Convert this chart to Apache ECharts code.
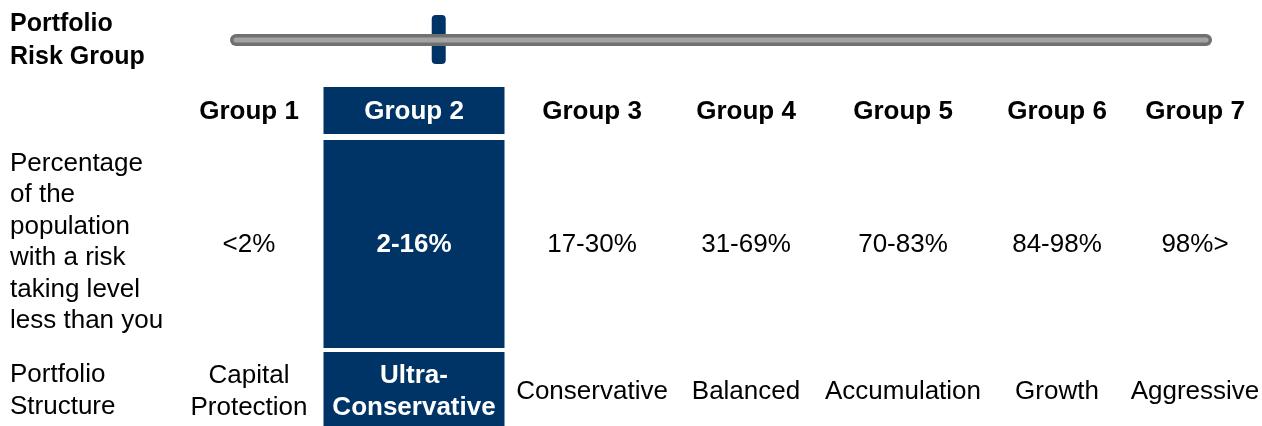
<!DOCTYPE html>
<html>
<head>
<meta charset="utf-8">
<script src="https://cdn.jsdelivr.net/npm/echarts@6/dist/echarts.min.js"></script>
<style>
  html, body { margin: 0; padding: 0; background: #fff; }
  #chart { width: 1262px; height: 426px; }
</style>
</head>
<body>
<div id="chart"></div>
<script>
const groups = ['Group 1', 'Group 2', 'Group 3', 'Group 4', 'Group 5', 'Group 6', 'Group 7'];
const percentiles = ['<2%', '2-16%', '17-30%', '31-69%', '70-83%', '84-98%', '98%>'];
const structures = ['Capital\nProtection', 'Ultra-\nConservative', 'Conservative', 'Balanced', 'Accumulation', 'Growth', 'Aggressive'];
const selectedGroup = 1;
const riskPosition = 20.9; // knob position along the slider, 0-100

// layout (pixels)
const colCenters = [249, 414, 592, 746, 903, 1057, 1195];
const boxWidth = 181;
const rows = [
  { top: 87, bottom: 134 },
  { top: 140, bottom: 348 },
  { top: 352, bottom: 426 }
];

const NAVY = '#003466';
const FONT = '"Liberation Sans", Arial, sans-serif';

function cellText(text, x, y, bold, color) {
  return {
    type: 'text',
    style: {
      text: text,
      x: x,
      y: y,
      align: 'center',
      verticalAlign: 'middle',
      fill: color,
      fontFamily: FONT,
      fontSize: 26,
      fontWeight: bold ? 'bold' : 'normal',
      lineHeight: 32
    }
  };
}

function renderCell(params, api) {
  const i = api.value(0);
  const sel = i === selectedGroup;
  const cx = api.coord([colCenters[i], 0])[0];
  const children = [];
  rows.forEach(function (r) {
    if (sel) {
      const p0 = api.coord([colCenters[i] - boxWidth / 2, r.top]);
      const p1 = api.coord([colCenters[i] + boxWidth / 2, r.bottom]);
      children.push({
        type: 'rect',
        shape: { x: p0[0], y: p0[1], width: p1[0] - p0[0], height: p1[1] - p0[1] },
        style: { fill: NAVY }
      });
    }
  });
  const yc = rows.map(function (r) { return api.coord([0, (r.top + r.bottom) / 2])[1]; });
  const color = sel ? '#fff' : '#000';
  children.push(cellText(groups[i], cx, yc[0] + 1, true, color));
  children.push(cellText(percentiles[i], cx, yc[1] + 1, sel, color));
  children.push(cellText(structures[i], cx, yc[2] + 3, sel, color));
  return { type: 'group', children: children };
}

function renderKnob(params, api) {
  const p = api.coord([api.value(0), api.value(1)]);
  return {
    type: 'rect',
    shape: { x: p[0] - 7, y: p[1] - 25, width: 14, height: 49, r: 4 },
    style: { fill: NAVY }
  };
}

const chart = echarts.init(document.getElementById('chart'));
chart.setOption({
  animation: false,
  grid: [
    { left: 0, right: 0, top: 0, bottom: 0 },
    { left: 236, right: 56, top: 15, height: 50 }
  ],
  xAxis: [
    { type: 'value', min: 0, max: 1262, show: false, gridIndex: 0 },
    { type: 'value', min: 0, max: 100, show: false, gridIndex: 1 }
  ],
  yAxis: [
    { type: 'value', min: 0, max: 426, inverse: true, show: false, gridIndex: 0 },
    { type: 'value', min: 0, max: 1, show: false, gridIndex: 1 }
  ],
  graphic: [
    {
      type: 'text', left: 10, top: 8,
      style: { text: 'Portfolio\nRisk Group', fill: '#000', font: 'bold 25px ' + FONT, lineHeight: 33 }
    },
    {
      type: 'text', left: 10, top: 148,
      style: {
        text: 'Percentage\nof the\npopulation\nwith a risk\ntaking level\nless than you',
        fill: '#000', font: '26px ' + FONT, lineHeight: 31.5
      }
    },
    {
      type: 'text', left: 10, top: 359,
      style: { text: 'Portfolio\nStructure', fill: '#000', font: '26px ' + FONT, lineHeight: 32 }
    }
  ],
  series: [
    {
      type: 'line', xAxisIndex: 1, yAxisIndex: 1, silent: true, symbol: 'none',
      data: [[0, 0.5], [100, 0.5]],
      lineStyle: { color: '#707070', width: 12, cap: 'round' }
    },
    {
      type: 'line', xAxisIndex: 1, yAxisIndex: 1, silent: true, symbol: 'none',
      data: [[0, 0.5], [100, 0.5]],
      lineStyle: { color: '#a3a3a3', width: 5, cap: 'round' }
    },
    {
      type: 'custom', xAxisIndex: 1, yAxisIndex: 1, silent: true,
      renderItem: renderKnob,
      data: [[riskPosition, 0.5]]
    },
    {
      type: 'custom', xAxisIndex: 0, yAxisIndex: 0, silent: true,
      renderItem: renderCell,
      data: groups.map(function (g, i) { return [i]; })
    }
  ]
});
</script>
</body>
</html>
